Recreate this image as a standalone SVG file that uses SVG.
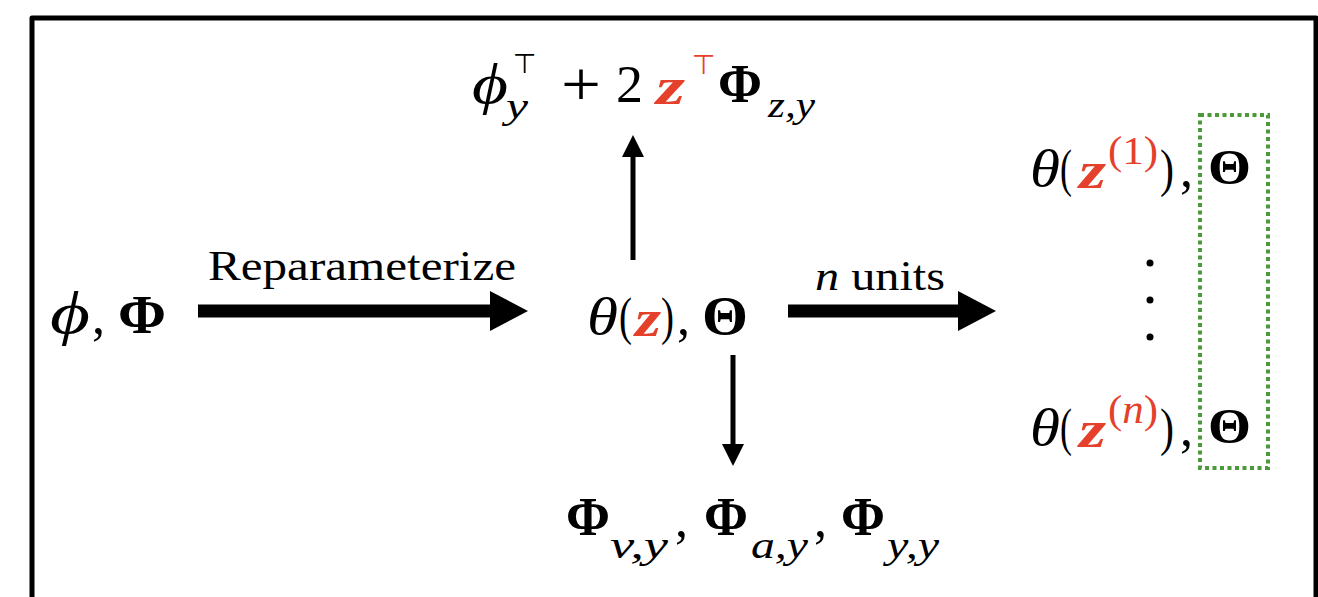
<svg xmlns="http://www.w3.org/2000/svg" width="1318" height="597" viewBox="0 0 1318 597">
<style>
text{font-family:"Liberation Serif","DejaVu Serif",serif;fill:#000}
.it{font-style:italic}
.bf{font-weight:bold}
.red{fill:#e5402b}
.zr{fill:#e5402b;font-style:italic;font-weight:bold}
.m{font-size:52px}
.s{font-size:36px}
.top{font-family:"DejaVu Sans",sans-serif}
</style>
<defs>
<marker id="bigHead" markerUnits="userSpaceOnUse" markerWidth="40" markerHeight="40" viewBox="0 0 38 40" refX="0" refY="20" orient="auto">
<path d="M0,0 L38,20 L0,40 Z" fill="#000"/>
</marker>
<marker id="smallHead" markerUnits="userSpaceOnUse" markerWidth="22" markerHeight="22" viewBox="0 0 22 22" refX="0" refY="11" orient="auto">
<path d="M0,0 L22,11 L0,22 Z" fill="#000"/>
</marker>
</defs>
<rect width="1318" height="597" fill="#fff"/>
<path d="M32,600 L32,18 L1316,18 L1316,600" fill="none" stroke="#000" stroke-width="5" stroke-linejoin="round"/>

<g id="connectors" stroke="#000" fill="none">
<line x1="198" y1="311" x2="490" y2="311" stroke-width="13" marker-end="url(#bigHead)"/>
<line x1="788" y1="311" x2="958" y2="311" stroke-width="13" marker-end="url(#bigHead)"/>
<line x1="633" y1="260" x2="633" y2="157" stroke-width="5" marker-end="url(#smallHead)"/>
<line x1="733" y1="355" x2="733" y2="444" stroke-width="5" marker-end="url(#smallHead)"/>
<text x="208" y="280" font-size="42" textLength="308" lengthAdjust="spacingAndGlyphs" stroke="none">Reparameterize</text>
<text x="815" y="290" font-size="42" textLength="130" lengthAdjust="spacingAndGlyphs" stroke="none"><tspan class="it">n</tspan> units</text>
</g>

<g id="node-phi">
<text x="50" y="333" class="it" font-size="60" textLength="40" lengthAdjust="spacingAndGlyphs">ϕ</text>
<text x="92" y="333" class="m">,</text>
<text x="118" y="333" class="bf" font-size="54" textLength="48" lengthAdjust="spacingAndGlyphs">Φ</text>
</g>

<g id="node-top">
<text x="472" y="103" class="it" font-size="58" textLength="36" lengthAdjust="spacingAndGlyphs">ϕ</text>
<text x="506" y="118" class="s it" textLength="22" lengthAdjust="spacingAndGlyphs">y</text>
<text x="513" y="73" class="top" font-size="27">⊤</text>
<text x="561" y="106" font-size="64" textLength="40" lengthAdjust="spacingAndGlyphs">+</text>
<text x="616" y="102" class="m" textLength="27" lengthAdjust="spacingAndGlyphs">2</text>
<text x="656" y="104" class="m zr" textLength="29" lengthAdjust="spacingAndGlyphs">z</text>
<text x="692" y="74" class="top red" font-size="27">⊤</text>
<text x="718" y="102" class="bf" font-size="54" textLength="44" lengthAdjust="spacingAndGlyphs">Φ</text>
<text x="768" y="117" class="s it" textLength="47" lengthAdjust="spacingAndGlyphs">z,y</text>
</g>

<g id="node-center">
<text x="587" y="334" class="m it" textLength="31" lengthAdjust="spacingAndGlyphs">θ</text>
<text x="619" y="334" class="m" textLength="13" lengthAdjust="spacingAndGlyphs">(</text>
<text x="635" y="336" class="m zr" textLength="26" lengthAdjust="spacingAndGlyphs">z</text>
<text x="661" y="334" class="m" textLength="13" lengthAdjust="spacingAndGlyphs">)</text>
<text x="677" y="334" class="m">,</text>
<text x="702" y="334" class="bf" font-size="54" textLength="46" lengthAdjust="spacingAndGlyphs">Θ</text>
</g>

<g id="node-bottom">
<text x="566" y="535" class="bf" font-size="54" textLength="44" lengthAdjust="spacingAndGlyphs">Φ</text>
<text x="610" y="558" font-size="38" class="it" textLength="58" lengthAdjust="spacingAndGlyphs">v,y</text>
<text x="675" y="536" class="m">,</text>
<text x="704" y="535" class="bf" font-size="54" textLength="44" lengthAdjust="spacingAndGlyphs">Φ</text>
<text x="751" y="558" font-size="38" class="it" textLength="57" lengthAdjust="spacingAndGlyphs">a,y</text>
<text x="814" y="536" class="m">,</text>
<text x="841" y="535" class="bf" font-size="54" textLength="44" lengthAdjust="spacingAndGlyphs">Φ</text>
<text x="887" y="558" font-size="38" class="it" textLength="52" lengthAdjust="spacingAndGlyphs">y,y</text>
</g>

<g id="node-units">
<text x="1030" y="186" class="m it" textLength="30" lengthAdjust="spacingAndGlyphs">θ</text>
<text x="1060" y="186" class="m" textLength="12" lengthAdjust="spacingAndGlyphs">(</text>
<text x="1079" y="188" class="m zr" textLength="27" lengthAdjust="spacingAndGlyphs">z</text>
<text x="1108" y="164" font-size="40" class="red" textLength="50" lengthAdjust="spacingAndGlyphs">(1)</text>
<text x="1160" y="186" class="m" textLength="14" lengthAdjust="spacingAndGlyphs">)</text>
<text x="1180" y="186" class="m">,</text>
<text x="1208" y="184" class="bf" font-size="50" textLength="43" lengthAdjust="spacingAndGlyphs">Θ</text>
<circle cx="1150" cy="263" r="3.5" fill="#000"/>
<circle cx="1150" cy="300" r="3.5" fill="#000"/>
<circle cx="1150" cy="337" r="3.5" fill="#000"/>
<text x="1030" y="445" class="m it" textLength="30" lengthAdjust="spacingAndGlyphs">θ</text>
<text x="1060" y="445" class="m" textLength="12" lengthAdjust="spacingAndGlyphs">(</text>
<text x="1079" y="447" class="m zr" textLength="27" lengthAdjust="spacingAndGlyphs">z</text>
<text x="1108" y="423" font-size="40" class="red" textLength="50" lengthAdjust="spacingAndGlyphs">(<tspan class="it">n</tspan>)</text>
<text x="1160" y="445" class="m" textLength="14" lengthAdjust="spacingAndGlyphs">)</text>
<text x="1180" y="445" class="m">,</text>
<text x="1208" y="443" class="bf" font-size="50" textLength="43" lengthAdjust="spacingAndGlyphs">Θ</text>
</g>

<g id="shared-box">
<rect x="1200" y="115" width="68" height="353" fill="none" stroke="#4b9a3a" stroke-width="4" stroke-dasharray="4 3.5"/>
</g>
</svg>
